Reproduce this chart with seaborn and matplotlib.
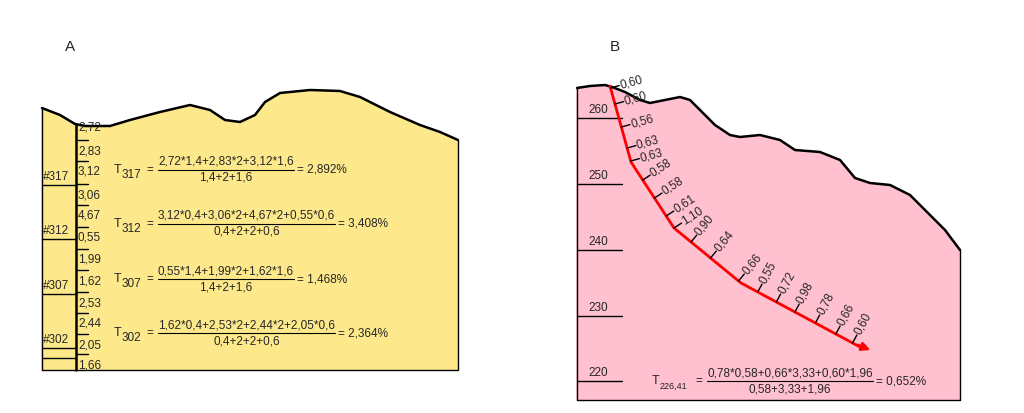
import numpy as np
import matplotlib
matplotlib.use("Agg")
import matplotlib.pyplot as plt
import seaborn as sns

# Panel A: surface profile (pixel coords of the drawing)
a_surf_x = [42, 60, 75, 85, 110, 130, 160, 190, 210, 225, 240, 255, 265, 280, 310, 340, 360, 390, 420, 440, 458]
a_surf_y = [108, 115, 124, 126, 126, 120, 112, 105, 110, 120, 122, 115, 102, 93, 90, 91, 97, 112, 125, 132, 140]
a_samples = ["2,72", "2,83", "3,12", "3,06", "4,67", "0,55", "1,99", "1,62", "2,53", "2,44", "2,05", "1,66"]
a_sample_y = [128, 151, 172, 195, 216, 238, 260, 281, 303, 324, 345, 365]
a_holes = ["#317", "#312", "#307", "#302"]
a_hole_y = [185, 239, 294, 348]
a_formulas = [
    ("317", "2,72*1,4+2,83*2+3,12*1,6", "1,4+2+1,6", "= 2,892%"),
    ("312", "3,12*0,4+3,06*2+4,67*2+0,55*0,6", "0,4+2+2+0,6", "= 3,408%"),
    ("307", "0,55*1,4+1,99*2+1,62*1,6", "1,4+2+1,6", "= 1,468%"),
    ("302", "1,62*0,4+2,53*2+2,44*2+2,05*0,6", "0,4+2+2+0,6", "= 2,364%"),
]
a_formula_y = [170, 224, 279, 333]

# Panel B
b_surf_x = [577, 590, 605, 612, 625, 640, 650, 665, 680, 690, 700, 715, 730, 740, 760, 780, 795, 820, 840, 855, 870, 890, 910, 925, 945, 960]
b_surf_y = [88, 86, 85, 87, 92, 100, 103, 100, 97, 100, 110, 125, 135, 137, 135, 140, 150, 152, 160, 178, 183, 185, 195, 210, 230, 250]
b_levels = ["260", "250", "240", "230", "220"]
b_level_y = [118, 184, 250, 316, 381]
b_path_x = [610, 631, 674, 741, 860]
b_path_y = [86, 162, 228, 283, 347]
b_values = ["0,60", "0,60", "0,56", "0,63", "0,63", "0,58", "0,58", "0,61", "1,10",
            "0,90", "0,64", "0,66", "0,55", "0,72", "0,98", "0,78", "0,66", "0,60"]
b_tick_y = [88, 104, 127, 148, 161, 180, 198, 216, 228, 242, 258, 281, 292, 302, 312, 323, 334, 343]

yellow = "#FDE98C"
pink = "#FFC0D0"

sns.set_theme(style="white")
plt.rcParams["font.family"] = ["Liberation Sans", "DejaVu Sans"]
fig = plt.figure(figsize=(10.24, 4.13), dpi=100)
ax = fig.add_axes([0, 0, 1, 1])
ax.set_xlim(0, 1024)
ax.set_ylim(413, 0)
ax.axis("off")
fs = 8.5

# ---- panel A ----
px = a_surf_x + [458, 42]
py = a_surf_y + [370, 370]
ax.fill(px, py, color=yellow, zorder=1)
ax.plot([42, 42, 458, 458], [108, 370, 370, 140], color="black", lw=1, zorder=2)
sns.lineplot(x=a_surf_x, y=a_surf_y, sort=False, color="black", lw=1.8, ax=ax, zorder=3)
ax.plot([76, 76], [124, 370], color="black", lw=1.8, zorder=3)
for lab, y in zip(a_samples, a_sample_y):
    ax.text(78, y, lab, fontsize=fs, va="center", ha="left")
    if y > 130:
        ax.plot([76, 88], [y - 11, y - 11], color="black", lw=1)
for lab, y in zip(a_holes, a_hole_y):
    ax.plot([42, 76], [y, y], color="black", lw=1)
    ax.text(43, y - 8, lab, fontsize=fs, va="center", ha="left")
ax.plot([42, 76], [358, 358], color="black", lw=1)
ax.text(65, 47, "A", fontsize=11, va="center")
ax.text(610, 47, "B", fontsize=11, va="center")

renderer = fig.canvas.get_renderer()


def formula(x, y, sub, num, den, res, fx, subsize=fs):
    ax.text(x, y, "T", fontsize=fs + 0.5, va="center")
    ax.text(x + 8, y + 5, sub, fontsize=subsize, va="center")
    ax.text(fx - 12, y, "=", fontsize=fs, va="center")
    t = ax.text(fx, y - 8, num, fontsize=fs, va="center")
    w = t.get_window_extent(renderer).width
    ax.text(fx + w / 2, y + 8, den, fontsize=fs, va="center", ha="center")
    ax.plot([fx, fx + w], [y, y], color="black", lw=0.8)
    ax.text(fx + w + 3, y, res, fontsize=fs, va="center")


for (sub, num, den, res), y in zip(a_formulas, a_formula_y):
    formula(114, y, sub, num, den, res, 158)

# ---- panel B ----
px = b_surf_x + [960, 577]
py = b_surf_y + [400, 400]
ax.fill(px, py, color=pink, zorder=1)
ax.plot([577, 577, 960, 960], [88, 400, 400, 250], color="black", lw=1, zorder=2)
sns.lineplot(x=b_surf_x, y=b_surf_y, sort=False, color="black", lw=1.8, ax=ax, zorder=3)
for lab, y in zip(b_levels, b_level_y):
    ax.plot([577, 622], [y, y], color="black", lw=1)
    ax.text(588, y - 8, lab, fontsize=fs, va="center")

sns.lineplot(x=b_path_x, y=b_path_y, sort=False, color="red", lw=2, ax=ax, zorder=4)
ax.annotate("", xy=(873, 351), xytext=(855, 344),
            arrowprops=dict(arrowstyle="-|>", color="red", lw=2), zorder=4)
for lab, ty in zip(b_values, b_tick_y):
    tx = np.interp(ty, b_path_y, b_path_x)
    seg = min(np.searchsorted(b_path_y, ty, side="left"), len(b_path_y) - 1)
    seg = max(seg, 1)
    dx = b_path_x[seg] - b_path_x[seg - 1]
    dy = b_path_y[seg] - b_path_y[seg - 1]
    L = np.hypot(dx, dy)
    nx, ny = dy / L, -dx / L
    ax.plot([tx, tx + 9 * nx], [ty, ty + 9 * ny], color="black", lw=1, zorder=5)
    rot = 90 - np.degrees(np.arctan2(dy, dx))
    ax.text(tx + 10 * nx, ty + 10 * ny, lab, fontsize=fs, rotation=rot,
            rotation_mode="anchor", ha="left", va="center", zorder=5)

formula(652, 381, "226,41", "0,78*0,58+0,66*3,33+0,60*1,96", "0,58+3,33+1,96",
        "= 0,652%", 707, subsize=6.5)

fig.savefig("out.png", dpi=100)
